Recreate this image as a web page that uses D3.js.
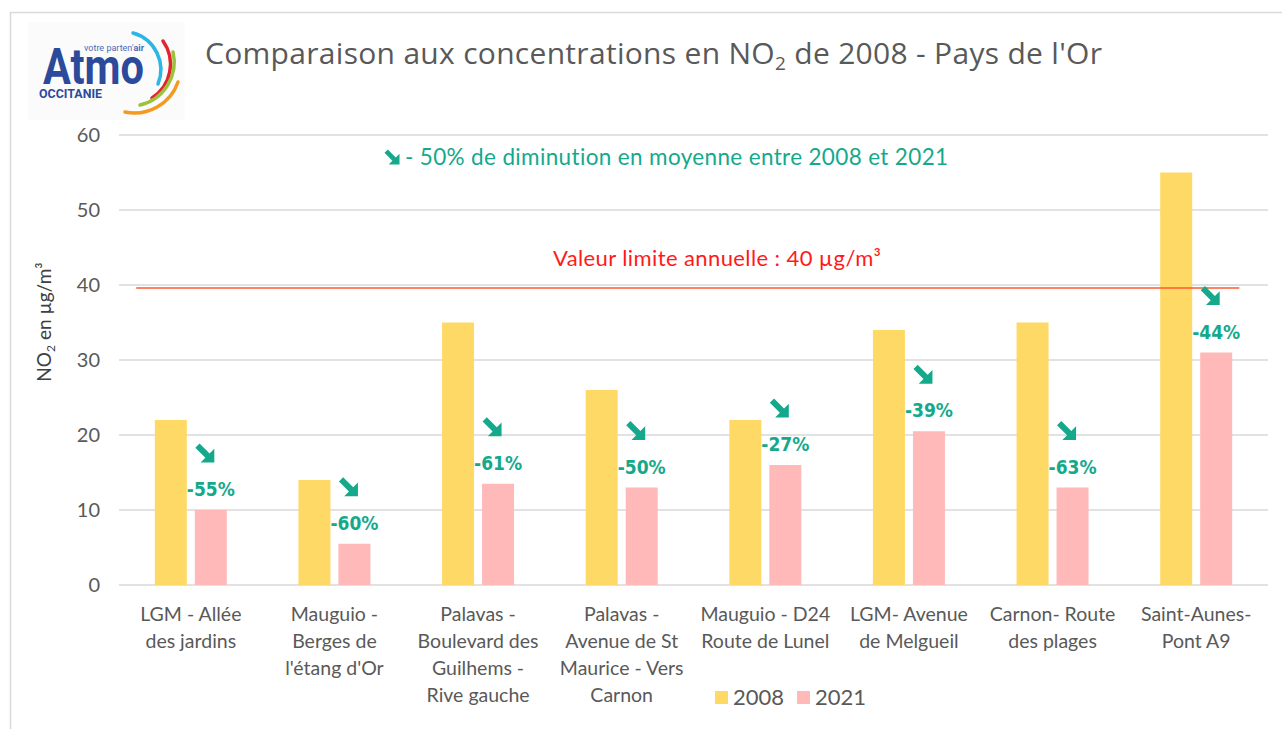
<!DOCTYPE html>
<html>
<head>
<meta charset="utf-8">
<script src="https://cdn.jsdelivr.net/npm/d3@7"></script>
<style>
  html, body { margin: 0; padding: 0; background: #fff; }
  svg { display: block; }
</style>
</head>
<body>
<div id="chart"></div>
<script>
// data
const categories = [
  ["LGM - Allée", "des jardins"],
  ["Mauguio -", "Berges de", "l'étang d'Or"],
  ["Palavas -", "Boulevard des", "Guilhems -", "Rive gauche"],
  ["Palavas -", "Avenue de St", "Maurice - Vers", "Carnon"],
  ["Mauguio - D24", "Route de Lunel"],
  ["LGM- Avenue", "de Melgueil"],
  ["Carnon- Route", "des plages"],
  ["Saint-Aunes-", "Pont A9"]
];
const values2008 = [22, 14, 35, 26, 22, 34, 35, 55];
const values2021 = [10, 5.5, 13.5, 13, 16, 20.5, 13, 31];
const reductions = ["-55%", "-60%", "-61%", "-50%", "-27%", "-39%", "-63%", "-44%"];
const seriesNames = ["2008", "2021"];
const yTicks = [0, 10, 20, 30, 40, 50, 60];
const limitValue = 39.6;

const W = 1282, H = 729;
const margin = { top: 135, left: 119, right: 14, bottom: 144 };
const colors = { "2008": "#FFD966", "2021": "#FFB9B9" };
const teal = "#14a98b";
const textGrey = "#595959";

const svg = d3.select("#chart").append("svg")
  .attr("width", W)
  .attr("height", H);

// outer frame (left and top edge visible)
svg.append("path")
  .attr("d", `M10.5,${H} L10.5,12.5 L${W},12.5`)
  .attr("fill", "none")
  .attr("stroke", "#d9d9d9")
  .attr("stroke-width", 1.5);

// logo
const logo = svg.append("g");
logo.append("rect")
  .attr("x", 28).attr("y", 22).attr("width", 157).attr("height", 98)
  .attr("fill", "#fbfbfb");
logo.append("text")
  .attr("x", 43).attr("y", 84)
  .attr("textLength", 101)
  .attr("lengthAdjust", "spacingAndGlyphs")
  .style("font-family", "Roboto, 'Liberation Sans', sans-serif")
  .style("font-weight", "700")
  .style("font-size", "50px")
  .style("fill", "#2b4a9b")
  .text("Atmo");
const tag = logo.append("text")
  .attr("x", 84).attr("y", 51)
  .attr("textLength", 60)
  .attr("lengthAdjust", "spacingAndGlyphs")
  .style("font-family", "Roboto, sans-serif")
  .style("font-size", "9px")
  .style("fill", "#4b6cb7");
tag.append("tspan").text("votre parten'");
tag.append("tspan").style("font-weight", "700").text("air");
logo.append("text")
  .attr("x", 39).attr("y", 98)
  .attr("textLength", 63)
  .attr("lengthAdjust", "spacingAndGlyphs")
  .style("font-family", "Roboto, sans-serif")
  .style("font-weight", "700")
  .style("font-size", "12px")
  .style("fill", "#2b4a9b")
  .text("OCCITANIE");
const arcs = [
  { d: "M133,33 A38,38 0 0 1 158,84", c: "#2bb6e3" },
  { d: "M163,41 A40,40 0 0 1 152,98", c: "#e2242f" },
  { d: "M173,52 A44,44 0 0 1 140,105", c: "#9bc23c" },
  { d: "M178,82 A46,46 0 0 1 125,112", c: "#f39a1f" }
];
logo.selectAll("path.arc").data(arcs).enter().append("path")
  .attr("class", "arc")
  .attr("d", d => d.d)
  .attr("fill", "none")
  .attr("stroke", d => d.c)
  .attr("stroke-width", 3.5)
  .attr("stroke-linecap", "round");

// title
const title = svg.append("text")
  .attr("x", 205).attr("y", 64)
  .style("font-family", "'Open Sans', sans-serif")
  .style("font-size", "30px")
  .style("letter-spacing", "0.3px")
  .style("fill", textGrey);
title.append("tspan").text("Comparaison aux concentrations en NO");
title.append("tspan").attr("dy", 6).style("font-size", "19px").text("2");
title.append("tspan").attr("dy", -6).text(" de 2008 - Pays de l'Or");

// scales
const x = d3.scaleBand()
  .domain(d3.range(categories.length))
  .range([margin.left, W - margin.right]);
const y = d3.scaleLinear()
  .domain([0, 60])
  .range([H - margin.bottom, margin.top]);
const groupWidth = 72;
const xs = d3.scaleBand()
  .domain(seriesNames)
  .range([0, groupWidth])
  .paddingInner(0.2);
const groupX = i => x(i) + x.bandwidth() / 2 - groupWidth / 2;

// gridlines
svg.append("g")
  .selectAll("line")
  .data(yTicks)
  .enter().append("line")
  .attr("x1", margin.left)
  .attr("x2", W - margin.right)
  .attr("y1", d => y(d))
  .attr("y2", d => y(d))
  .attr("stroke", "#d9d9d9")
  .attr("stroke-width", 1.5);

// y axis labels
const yAxis = svg.append("g")
  .attr("transform", `translate(${margin.left - 19},0)`)
  .call(d3.axisLeft(y).tickValues(yTicks).tickSize(0).tickPadding(0));
yAxis.select(".domain").remove();
yAxis.selectAll("text")
  .style("font-family", "Lato, sans-serif")
  .style("font-size", "20px")
  .style("fill", textGrey);

// y axis title
const yt = svg.append("text")
  .attr("transform", "translate(51,322) rotate(-90)")
  .attr("text-anchor", "middle")
  .style("font-family", "Lato, sans-serif")
  .style("font-size", "19px")
  .style("fill", "#404040");
yt.append("tspan").text("NO");
yt.append("tspan").attr("dy", 4).style("font-size", "12px").text("2");
yt.append("tspan").attr("dy", -4).text(" en µg/m³");

// bars
const series = [
  { name: "2008", values: values2008 },
  { name: "2021", values: values2021 }
];
svg.append("g")
  .selectAll("g")
  .data(series)
  .enter().append("g")
  .attr("fill", d => colors[d.name])
  .selectAll("rect")
  .data(d => d.values.map((v, i) => ({ name: d.name, v, i })))
  .enter().append("rect")
  .attr("x", d => groupX(d.i) + xs(d.name))
  .attr("y", d => y(d.v))
  .attr("width", xs.bandwidth())
  .attr("height", d => y(0) - y(d.v));

// limit line
svg.append("line")
  .attr("x1", x(0) + x.step() * 0.12)
  .attr("x2", x(categories.length - 1) + x.step() * 0.8)
  .attr("y1", y(limitValue))
  .attr("y2", y(limitValue))
  .attr("stroke", "#ff5a2e")
  .attr("stroke-width", 1.5);

svg.append("text")
  .attr("x", 553).attr("y", 266)
  .style("font-family", "Lato, sans-serif")
  .style("font-size", "22px")
  .style("letter-spacing", "0.4px")
  .style("fill", "#ff1a1a")
  .text("Valeur limite annuelle : 40 µg/m³");

// arrow glyph
function arrowPath(s) {
  const k = s / 18;
  const pts = [[4, 0], [13.5, 9.5], [18, 5], [18, 18], [5, 18], [9.5, 13.5], [0, 4]];
  return "M" + pts.map(p => [(p[0] - 9) * k, (p[1] - 9) * k].join(",")).join("L") + "Z";
}

// average annotation
svg.append("path")
  .attr("d", arrowPath(15))
  .attr("transform", "translate(392,157)")
  .attr("fill", teal);
svg.append("text")
  .attr("x", 405).attr("y", 165)
  .style("font-family", "Lato, sans-serif")
  .style("font-size", "22.5px")
  .style("letter-spacing", "0.35px")
  .style("fill", teal)
  .text("- 50% de diminution en moyenne entre 2008 et 2021");

// reduction labels
const bar21Center = i => groupX(i) + xs("2021") + xs.bandwidth() / 2;
const labels = svg.append("g");
labels.selectAll("path")
  .data(values2021)
  .enter().append("path")
  .attr("d", arrowPath(19))
  .attr("transform", (v, i) => `translate(${bar21Center(i) - 6},${y(v) - 57})`)
  .attr("fill", teal);
labels.selectAll("text")
  .data(values2021)
  .enter().append("text")
  .attr("x", (v, i) => bar21Center(i))
  .attr("y", v => y(v) - 14)
  .attr("text-anchor", "middle")
  .style("font-family", "'DejaVu Sans Condensed', 'DejaVu Sans', sans-serif")
  .style("font-stretch", "condensed")
  .style("font-weight", "700")
  .style("font-size", "19px")
  .style("fill", teal)
  .text((v, i) => reductions[i]);

// category labels
const catG = svg.append("g")
  .selectAll("text")
  .data(categories)
  .enter().append("text")
  .attr("text-anchor", "middle")
  .attr("x", (d, i) => x(i) + x.bandwidth() / 2)
  .attr("y", 621)
  .style("font-family", "Lato, sans-serif")
  .style("font-size", "19.5px")
  .style("fill", textGrey);
catG.selectAll("tspan")
  .data(d => d)
  .enter().append("tspan")
  .attr("x", function () { return this.parentNode.getAttribute("x"); })
  .attr("dy", (d, i) => i === 0 ? 0 : 27)
  .text(d => d);

// legend
const legend = svg.append("g").attr("transform", "translate(715,704)");
const legendItems = legend.selectAll("g")
  .data(seriesNames)
  .enter().append("g")
  .attr("transform", (d, i) => `translate(${i * 82},0)`);
legendItems.append("rect")
  .attr("x", 0).attr("y", -13)
  .attr("width", 13).attr("height", 13)
  .attr("fill", d => colors[d]);
legendItems.append("text")
  .attr("x", 18).attr("y", 1)
  .style("font-family", "Lato, sans-serif")
  .style("font-size", "22px")
  .style("fill", textGrey)
  .text(d => d);
</script>
</body>
</html>
